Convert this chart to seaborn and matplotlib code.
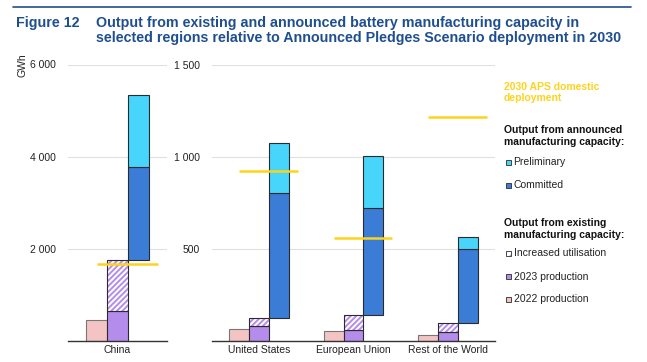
import numpy as np
import pandas as pd
import matplotlib.pyplot as plt
import seaborn as sns
from matplotlib.patches import Rectangle
from matplotlib.lines import Line2D

# %% Data (GWh)
regions = ['China', 'United States', 'European Union', 'Rest of the World']
prod_2022 = [450, 65, 54, 31]
prod_2023 = [660, 80, 61, 49]
increased_util = [1095, 43, 80, 49]
committed = [2010, 680, 580, 400]
preliminary = [1570, 275, 285, 65]
aps_2030 = [1675, 923, 559, 1220]

slots = ['2022 production', '2023 production', 'Announced']

# %% Style
c2022 = '#f4c4c4'
c2023 = '#b48cec'
c_committed = '#3b7dd6'
c_prelim = '#48d5fb'
c_aps = '#fdd31c'
c_title = '#1f4f8f'
c_edge = '#2b2b2b'
palette = {'2022 production': c2022, '2023 production': c2023, 'Announced': c_committed}

sns.set_style('white')
plt.rcParams['font.family'] = ['Liberation Sans', 'DejaVu Sans']
plt.rcParams['hatch.linewidth'] = 1.4

fig = plt.figure(figsize=(6.47, 3.62), dpi=100)
W, H = 647, 362


def draw_panel(ax, idx, ymax, ticks, ticklabels):
    n = len(idx)
    sub = pd.DataFrame({
        'region': [regions[i] for i in idx] * 2,
        'series': ['2022 production'] * n + ['2023 production'] * n,
        'value': [prod_2022[i] for i in idx] + [prod_2023[i] for i in idx],
    })
    sns.barplot(data=sub, x='region', y='value', hue='series', hue_order=slots,
                order=[regions[i] for i in idx], palette=palette, width=0.63,
                dodge=True, saturation=1, errorbar=None, legend=False, ax=ax,
                edgecolor=c_edge, linewidth=0.8)
    # pink bars have a lighter outline
    for p in ax.patches:
        if np.allclose(p.get_facecolor()[:3], plt.matplotlib.colors.to_rgb(c2022)):
            p.set_edgecolor('#777777')

    bw = 0.21
    for k, i in enumerate(idx):
        base = prod_2023[i]
        # increased utilisation (hatched)
        ax.bar(k, increased_util[i], bw, bottom=base, facecolor='white',
               edgecolor=c2023, hatch='//////', linewidth=0)
        ax.bar(k, increased_util[i], bw, bottom=base, fill=False,
               edgecolor=c_edge, linewidth=0.8)
        top_exist = base + increased_util[i]
        ax.bar(k + bw, committed[i], bw, bottom=top_exist, color=c_committed,
               edgecolor=c_edge, linewidth=0.8)
        ax.bar(k + bw, preliminary[i], bw, bottom=top_exist + committed[i],
               color=c_prelim, edgecolor=c_edge, linewidth=0.8)
        ax.hlines(aps_2030[i], k - bw, k + 0.41, color=c_aps, lw=1.8, zorder=5)

    ax.set_xlim(-0.5, n - 0.5)
    ax.set_ylim(0, ymax)
    ax.set_yticks(ticks)
    ax.set_yticklabels(ticklabels)
    ax.yaxis.grid(True, color='#e0e0e0', lw=0.8)
    ax.set_axisbelow(True)
    ax.set_xlabel('')
    ax.set_ylabel('')
    for s in ['left', 'top', 'right']:
        ax.spines[s].set_visible(False)
    ax.spines['bottom'].set_color('#333333')
    ax.spines['bottom'].set_linewidth(1.0)
    ax.tick_params(axis='y', length=0, pad=9, labelsize=7.5, labelcolor='#222222')
    ax.tick_params(axis='x', length=0, pad=3, labelsize=7.5, labelcolor='#222222')


ax_cn = fig.add_axes([68 / W, 21 / H, 99 / W, 276.5 / H])
draw_panel(ax_cn, [0], 6000, [2000, 4000, 6000], ['2 000', '4 000', '6 000'])

ax_rw = fig.add_axes([212 / W, 21 / H, 283 / W, 276 / H])
draw_panel(ax_rw, [1, 2, 3], 1500, [500, 1000, 1500], ['500', '1 000', '1 500'])

fig.text(23 / W, 1 - 65 / H, 'GWh', rotation=90, ha='center', va='center',
         fontsize=7.5, color='#222222')

# %% Title
fig.add_artist(Line2D([13 / W, 631 / W], [1 - 7 / H] * 2, color=c_title, lw=1.2))
fig.text(16.5 / W, 1 - 15.5 / H, 'Figure 12', fontsize=10.3, fontweight='bold',
         color=c_title, va='top', ha='left')
fig.text(96 / W, 1 - 15.5 / H,
         'Output from existing and announced battery manufacturing capacity in\n'
         'selected regions relative to Announced Pledges Scenario deployment in 2030',
         fontsize=10.3, fontweight='bold', color=c_title, va='top', ha='left',
         linespacing=1.15)

# %% Legend (manual)
lx = 504 / W
fig.text(lx, 1 - 92.5 / H, '2030 APS domestic\ndeployment', fontsize=7.5,
         fontweight='bold', color=c_aps, va='center', ha='left')
fig.text(lx, 1 - 136 / H, 'Output from announced\nmanufacturing capacity:',
         fontsize=7.5, fontweight='bold', color='#111111', va='center', ha='left')
fig.text(lx, 1 - 229 / H, 'Output from existing\nmanufacturing capacity:',
         fontsize=7.5, fontweight='bold', color='#111111', va='center', ha='left')

items = [('Preliminary', c_prelim, None, 162.5),
         ('Committed', c_committed, None, 185),
         ('Increased utilisation', 'white', '///', 253.3),
         ('2023 production', c2023, None, 276.7),
         ('2022 production', c2022, None, 299.3)]
sq = 5
for label, col, hatch, yc in items:
    fig.add_artist(Rectangle((506 / W, 1 - (yc + sq / 2) / H), sq / W, sq / H,
                             transform=fig.transFigure, facecolor=col,
                             edgecolor=c2023 if hatch else c_edge, hatch=hatch,
                             linewidth=0.6 if not hatch else 0))
    if hatch:
        fig.add_artist(Rectangle((506 / W, 1 - (yc + sq / 2) / H), sq / W, sq / H,
                                 transform=fig.transFigure, fill=False,
                                 edgecolor=c_edge, linewidth=0.6))
    fig.text(513.5 / W, 1 - yc / H, label, fontsize=7.5, color='#222222',
             va='center', ha='left')

plt.savefig('out.png', dpi=100)
